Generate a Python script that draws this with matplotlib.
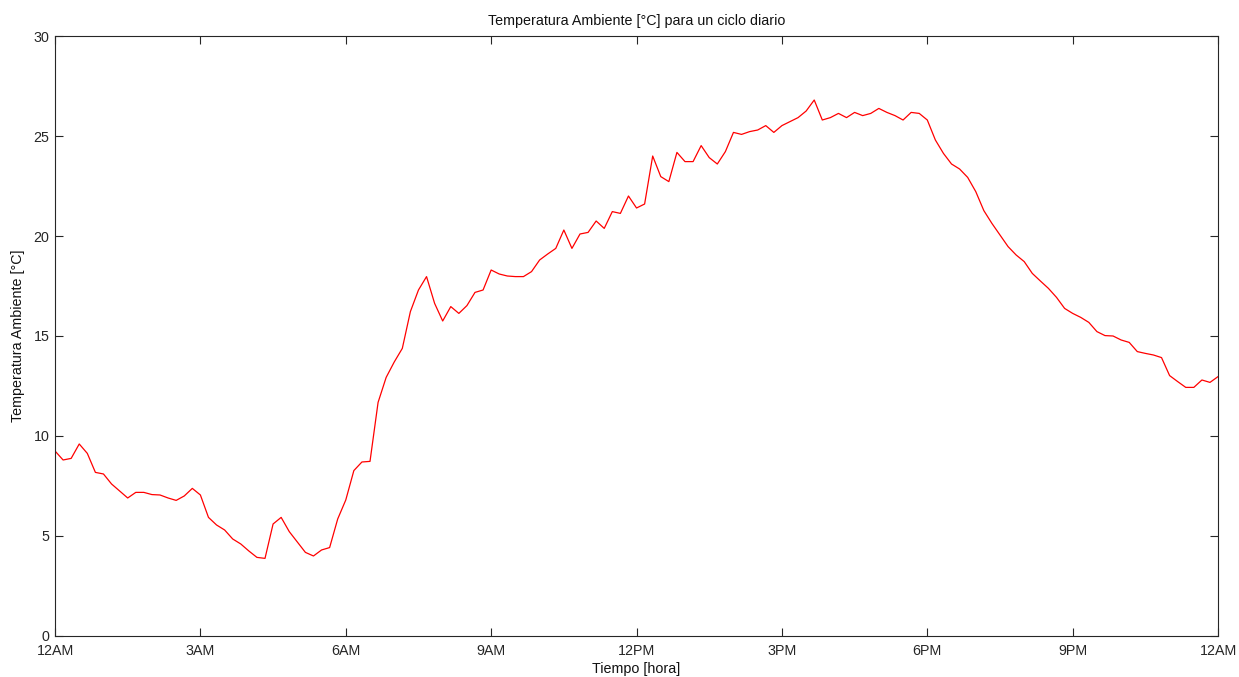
import numpy as np
import matplotlib
matplotlib.use("Agg")
import matplotlib.pyplot as plt

# temperatura ambiente registrada cada 10 minutos, de 12AM a 12AM
temperatura = [
    9.25, 8.80, 8.88, 9.60, 9.13, 8.18, 8.10, 7.60, 7.25, 6.90,
    7.18, 7.18, 7.07, 7.05, 6.90, 6.78, 7.00, 7.38, 7.05, 5.93,
    5.55, 5.30, 4.85, 4.60, 4.25, 3.93, 3.88, 5.60, 5.93, 5.22,
    4.70, 4.18, 4.00, 4.30, 4.42, 5.85, 6.80, 8.27, 8.70, 8.73,
    11.68, 12.93, 13.70, 14.38, 16.22, 17.30, 17.97, 16.63, 15.75, 16.47,
    16.13, 16.52, 17.18, 17.30, 18.30, 18.10, 18.00, 17.97, 17.97, 18.22,
    18.80, 19.10, 19.38, 20.30, 19.38, 20.10, 20.18, 20.75, 20.38, 21.22,
    21.13, 22.00, 21.40, 21.60, 24.00, 22.97, 22.72, 24.18, 23.72, 23.72,
    24.52, 23.92, 23.60, 24.22, 25.18, 25.08, 25.22, 25.30, 25.52, 25.18,
    25.52, 25.72, 25.92, 26.25, 26.80, 25.80, 25.92, 26.13, 25.92, 26.18,
    26.02, 26.13, 26.38, 26.18, 26.02, 25.80, 26.18, 26.13, 25.80, 24.80,
    24.13, 23.60, 23.35, 22.93, 22.22, 21.27, 20.63, 20.05, 19.47, 19.05,
    18.72, 18.13, 17.75, 17.38, 16.93, 16.38, 16.13, 15.93, 15.68, 15.22,
    15.02, 15.00, 14.80, 14.68, 14.22, 14.13, 14.05, 13.92, 13.02, 12.72,
    12.43, 12.43, 12.80, 12.68, 12.97,
]
horas_ticks = [0, 3, 6, 9, 12, 15, 18, 21, 24]
etiquetas_x = ["12AM", "3AM", "6AM", "9AM", "12PM", "3PM", "6PM", "9PM", "12AM"]
yticks = [0, 5, 10, 15, 20, 25, 30]

horas = np.linspace(0, 24, len(temperatura))

plt.rcParams['font.family'] = ['Liberation Sans', 'DejaVu Sans']
fs = 10.3

fig = plt.figure(figsize=(12.39, 6.77), dpi=100)
ax = fig.add_axes([0.0444, 0.0606, 0.9387, 0.8862])

ax.plot(horas, temperatura, color='red', linewidth=0.9)

ax.set_xlim(0, 24)
ax.set_ylim(0, 30)
ax.set_xticks(horas_ticks)
ax.set_xticklabels(etiquetas_x)
ax.set_yticks(yticks)

ax.tick_params(direction='in', length=6, width=0.8, labelsize=fs,
               top=True, right=True, colors='#262626', pad=4)
ax.tick_params(axis='x', pad=6)
for s in ax.spines.values():
    s.set_color('#262626')
    s.set_linewidth(0.8)

ax.set_title("Temperatura Ambiente [°C] para un ciclo diario", fontsize=fs,
             pad=8, color='#111111')
ax.set_xlabel("Tiempo [hora]", fontsize=fs, labelpad=3, color='#111111')
ax.set_ylabel("Temperatura Ambiente [°C]", fontsize=fs, labelpad=6,
              color='#111111')

fig.savefig("out.png", dpi=100)
